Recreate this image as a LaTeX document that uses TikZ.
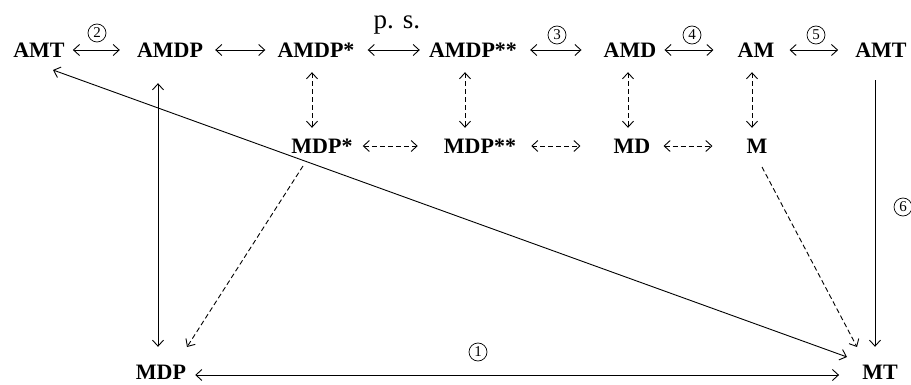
\documentclass[tikz,border=0pt]{standalone}
\usepackage{fontspec}
\setmainfont{Liberation Serif}
\usetikzlibrary{arrows.meta}
\begin{document}
\begin{tikzpicture}[x=1pt,y=-1pt,
  >={Straight Barb[length=6pt,width=11pt]},
  lbl/.style={font=\fontsize{22}{22}\selectfont\bfseries, inner sep=0pt, text height=15pt, text depth=0pt},
  num/.style={circle, draw, line width=0.7pt, inner sep=0pt, minimum size=18pt, font=\fontsize{15}{15}\selectfont},
  conn/.style={line width=0.9pt},
  dconn/.style={conn, dash pattern=on 5pt off 3pt}]
\useasboundingbox[fill=white] (0,0) rectangle (911,385);
% row 1
\node[lbl] (amtL)   at (39,50)  {AMT};
\node[lbl] (amdp)   at (170,50) {AMDP};
\node[lbl] (amdps)  at (316,50) {AMDP*};
\node[lbl] (amdpss) at (473,50) {AMDP**};
\node[lbl] (amd)    at (630,50) {AMD};
\node[lbl] (am)     at (756,50) {AM};
\node[lbl] (amtR)   at (881,50) {AMT};
% row 2
\node[lbl] (mdps)   at (322,146) {MDP*};
\node[lbl] (mdpss)  at (480,146) {MDP**};
\node[lbl] (md)     at (632,146) {MD};
\node[lbl] (m)      at (757,146) {M};
% row 3
\node[lbl] (mdp)    at (161,372) {MDP};
\node[lbl] (mt)     at (880,372) {MT};
% labels
\node[font=\fontsize{27}{27}\selectfont, inner sep=0pt, anchor=base] (ps) at (397,29) {p. s.};
\node[num] (c2) at (97,33)  {2};
\node[num] (c3) at (557,35) {3};
\node[num] (c4) at (692,35) {4};
\node[num] (c5) at (816,35) {5};
\node[num] (c1) at (478,352) {1};
\node[num] (c6) at (903,207) {6};
% row 1 connectors
\draw[conn,<->] ([xshift=8pt]amtL.east) -- ([xshift=-17pt]amdp.west);
\draw[conn,<->] ([xshift=12pt]amdp.east) -- ([xshift=-12pt]amdps.west);
\draw[conn,<->] ([xshift=13pt]amdps.east) -- ([xshift=-9pt]amdpss.west);
\draw[conn,<->] ([xshift=13pt]amdpss.east) -- ([xshift=-22pt]amd.west);
\draw[conn,<->] ([xshift=8pt]amd.east) -- ([xshift=-24pt]am.west);
\draw[conn,<->] ([xshift=15pt]am.east) -- ([xshift=-17pt]amtR.west);
% row 2 connectors
\draw[dconn,<->] ([xshift=10pt]mdps.east) -- ([xshift=-26pt]mdpss.west);
\draw[dconn,<->] ([xshift=15pt]mdpss.east) -- ([xshift=-33pt]md.west);
\draw[dconn,<->] ([xshift=13pt]md.east) -- ([xshift=-34pt]m.west);
% vertical dashed
\draw[dconn,<->] ([xshift=-4pt,yshift=-14.5pt]amdps.south) -- ([xshift=-10pt,yshift=10.5pt]mdps.north);
\draw[dconn,<->] ([xshift=-8pt,yshift=-14.5pt]amdpss.south) -- ([xshift=-15pt,yshift=10.5pt]mdpss.north);
\draw[dconn,<->] ([xshift=-2pt,yshift=-14.5pt]amd.south) -- ([xshift=-4pt,yshift=10.5pt]md.north);
\draw[dconn,<->] ([xshift=-4pt,yshift=-14.5pt]am.south) -- ([xshift=-5pt,yshift=10.5pt]m.north);
% long connectors
\draw[conn,<->] ([xshift=-12pt,yshift=-25.5pt]amdp.south) -- ([xshift=-3pt,yshift=17.5pt]mdp.north);
\draw[conn,->] ([xshift=-6pt,yshift=-22.5pt]amtR.south) -- ([xshift=-5pt,yshift=17.5pt]mt.north);
\draw[conn,<->] ([xshift=14pt,yshift=-20pt]amtL.center) -- ([xshift=-33pt,yshift=15pt]mt.center);
\draw[dconn,->] ([xshift=-19pt,yshift=-20pt]mdps.center) -- ([xshift=26pt,yshift=25pt]mdp.center);
\draw[dconn,->] ([xshift=5pt,yshift=-21pt]m.center) -- ([xshift=-23pt,yshift=25pt]mt.center);
\draw[conn,<->] ([xshift=9pt,yshift=-3pt]mdp.east) -- ([xshift=-23pt,yshift=-3pt]mt.west);
\end{tikzpicture}
\end{document}
